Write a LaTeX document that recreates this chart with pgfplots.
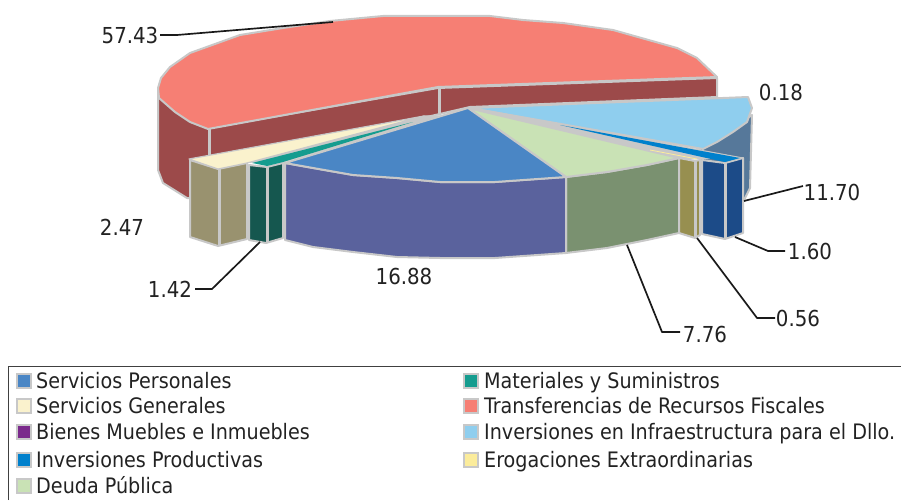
\documentclass[border=0pt]{standalone}
\usepackage{fontspec}
\setmainfont{DejaVu Sans Condensed}
\usepackage{pgfplots}
\pgfplotsset{compat=1.18}
\definecolor{gr}{HTML}{C8C8C8}
\definecolor{redT}{HTML}{F67F74}
\definecolor{redS}{HTML}{9C4A4A}
\definecolor{yelT}{HTML}{FAF2CD}
\definecolor{yelS}{HTML}{99926F}
\definecolor{teaT}{HTML}{159C8F}
\definecolor{teaS}{HTML}{15574F}
\definecolor{bluT}{HTML}{4A86C5}
\definecolor{bluS}{HTML}{5A629D}
\definecolor{greT}{HTML}{C9E2B5}
\definecolor{greS}{HTML}{7A9170}
\definecolor{eroT}{HTML}{FBEC9B}
\definecolor{eroS}{HTML}{978F50}
\definecolor{proT}{HTML}{0080CC}
\definecolor{proS}{HTML}{1C4B88}
\definecolor{infT}{HTML}{8FCEEE}
\definecolor{infS}{HTML}{56789A}
\definecolor{pur}{HTML}{7B2A8C}
\definecolor{lead}{HTML}{1A1A1A}
\definecolor{txt}{HTML}{222222}
\pgfplotsset{
  face/.style={fill=#1,draw=gr,line width=2pt,line join=round,mark=none},
  div/.style={draw=gr,line width=3pt,mark=none},
  ldr/.style={draw=lead,line width=1.7pt,mark=none,line join=round},
  sw/.style={only marks,mark=square*,mark size=7.2pt,mark options={fill=#1,draw=gr,line width=1.5pt}},
}
\tikzset{vl/.style={font=\fontsize{22}{24}\selectfont,text=txt,inner sep=0pt},
         lg/.style={font=\fontsize{21.3}{23}\selectfont,text=txt,inner sep=0pt,anchor=base west}}
\begin{document}
\begin{tikzpicture}
\begin{axis}[
  scale only axis,width=901pt,height=500pt,
  xmin=0,xmax=901,ymin=0,ymax=500,y dir=reverse,
  hide axis,clip=true,
]
% Transferencias
\addplot[face=redS] coordinates {(158,88)(158,170)(163,183)(187,198)(240,199)(240,160)(470,107)(717,97)(717,78)(438,88)(209,128)} -- cycle;
\addplot[div] coordinates {(209,128)(209,160)};
\addplot[div] coordinates {(439,88)(439,114)};
\addplot[face=redT] coordinates {(208,129)(190,122)(175,112)(159,98)(158,88)(161,78)(170,67)(190,53)(240,35)(283,28)(330,21)(383,16)(490,16)(523,20)(563,23)(613,30)(677,48)(697,58)(717,77)(438,87)} -- cycle;
% Inversiones en Infraestructura
\addplot[face=infS] coordinates {(700,148)(752,115)(750,188)(744,200)(735,205)(700,205)} -- cycle;
\addplot[face=infT] coordinates {(470,108)(748,97)(752,108)(747,122)(733,132)(717,142)(703,149)} -- cycle;
% seam
\addplot[fill=gr,draw=gr,line width=1pt,mark=none] coordinates {(468,107)(743,158)(680,159)} -- cycle;
% Deuda
\addplot[face=greS] coordinates {(566,177)(566,253)(607,248)(647,240)(679,233)(679,158)(647,165)(607,172)} -- cycle;
\addplot[face=greT] coordinates {(468,108)(566,177)(607,172)(647,165)(679,158)} -- cycle;
% Erogaciones
\addplot[face=eroS] coordinates {(679,158)(679,233)(695,238)(700,235)(700,160)(695,161)} -- cycle;
\addplot[div] coordinates {(695,161)(695,238)};
\addplot[draw=eroT,line width=.8pt,mark=none] coordinates {(650,150)(697,159)};
% Productivas
\addplot[face=proS] coordinates {(702,160)(702,234)(725,239)(743,233)(743,158)(725,163)} -- cycle;
\addplot[div] coordinates {(725,163)(725,239)};
\addplot[fill=proT,draw=none,mark=none] coordinates {(560,125)(740,158)(725,162)(702,157)} -- cycle;
% Personales
\addplot[face=bluS] coordinates {(285,163)(285,240)(313,247)(353,252)(397,257)(440,258)(495,258)(566,253)(566,177)(495,182)(440,182)(397,178)(353,175)(313,168)} -- cycle;
\addplot[face=bluT] coordinates {(468,108)(285,163)(313,168)(353,175)(397,178)(440,182)(495,182)(566,177)} -- cycle;
% Materiales
\addplot[face=teaS] coordinates {(249,165)(249,240)(266,243)(283,238)(283,163)(267,167)} -- cycle;
\addplot[div] coordinates {(267,167)(267,243)};
\addplot[fill=gr,draw=gr,line width=1pt,mark=none] coordinates {(424,116)(250,162)(283,162)(440,116)} -- cycle;
\addplot[fill=teaT,draw=none,mark=none] coordinates {(413,122)(252,163)(267,166)(283,162)} -- cycle;
% Generales
\addplot[face=yelS] coordinates {(190,160)(190,237)(218,246)(247,239)(247,163)(218,169)} -- cycle;
\addplot[div] coordinates {(219,169)(219,246)};
\addplot[fill=yelT,draw=gr,line width=1.2pt,mark=none,line join=round] coordinates {(424,116)(189,159)(218,169)(247,163)} -- cycle;
% Leaders
\addplot[ldr] coordinates {(160,35)(177,35)(333,22)};
\addplot[ldr] coordinates {(744,201)(803,186)};
\addplot[ldr] coordinates {(735,237)(768,251)(785,251)};
\addplot[ldr] coordinates {(697,238)(757,318)(775,318)};
\addplot[ldr] coordinates {(627,245)(662,332)(680,332)};
\addplot[ldr] coordinates {(195,289)(212,289)(260,242)};
% Value labels
\node[vl] at (axis cs:130,35) {57.43};
\node[vl] at (axis cs:781,92) {0.18};
\node[vl] at (axis cs:832,192) {11.70};
\node[vl] at (axis cs:810,251) {1.60};
\node[vl] at (axis cs:798,318) {0.56};
\node[vl] at (axis cs:705,334) {7.76};
\node[vl] at (axis cs:404,276) {16.88};
\node[vl] at (axis cs:122,227) {2.47};
\node[vl] at (axis cs:170,289) {1.42};
% Legend frame
\addplot[draw=black!75,line width=1.8pt,mark=none] coordinates {(8.5,500)(8.5,366.5)(901,366.5)};
% Legend
\addplot[sw=bluT] coordinates {(24,381)};
\addplot[sw=yelT] coordinates {(24,406)};
\addplot[sw=pur] coordinates {(24,432)};
\addplot[sw=proT] coordinates {(24,460)};
\addplot[sw=greT] coordinates {(24,486)};
\addplot[sw=teaT] coordinates {(471,381)};
\addplot[sw=redT] coordinates {(471,406)};
\addplot[sw=infT] coordinates {(471,432)};
\addplot[sw=eroT] coordinates {(471,460)};
\node[lg] at (axis cs:36,388) {Servicios Personales};
\node[lg] at (axis cs:36,413) {Servicios Generales};
\node[lg] at (axis cs:36,439) {Bienes Muebles e Inmuebles};
\node[lg] at (axis cs:36,467) {Inversiones Productivas};
\node[lg] at (axis cs:36,493) {Deuda Pública};
\node[lg] at (axis cs:484,388) {Materiales y Suministros};
\node[lg] at (axis cs:484,413) {Transferencias de Recursos Fiscales};
\node[lg] at (axis cs:484,439) {Inversiones en Infraestructura para el Dllo.};
\node[lg] at (axis cs:484,467) {Erogaciones Extraordinarias};
\end{axis}
\pgfresetboundingbox
\useasboundingbox (0,0) rectangle (901pt,500pt);
\end{tikzpicture}
\end{document}
